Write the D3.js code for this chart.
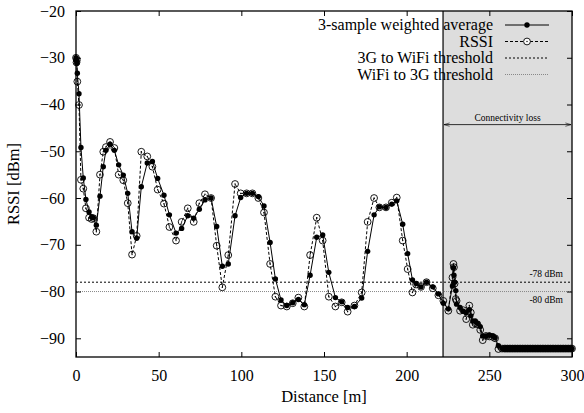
<!DOCTYPE html>
<html><head><meta charset="utf-8">
<script src="https://cdn.jsdelivr.net/npm/d3@7"></script>
<style>
body{margin:0;background:#fff;}
</style></head>
<body><svg id="chart" width="584" height="413"></svg>
<script>
// ---- data ----
const distance = [0,0.3,0.5,0.8,1.8,3,4.4,6,7.9,9.5,10.5,12.3,14.5,16.5,18.1,20.6,23.2,25.8,28.6,31.3,33.9,36.7,39.5,43.1,46.2,49.4,53.2,56.5,60.5,63.9,67.6,71.2,74.6,78,81.7,85.1,88.5,92.1,96.2,99.6,103.2,106.7,110.3,113.7,117.4,120.6,124,127.5,131.1,134.5,138.1,141.6,145.6,149.2,152.9,156.9,160.7,164.3,168.4,172.8,176.4,180.3,183.5,187.5,191,194,197.6,200.6,203.5,205.7,208.7,212,215.8,219.2,222.2,225.2,227.7,228.3,228.6,229,229.7,230.2,232.3,234.3,236,237.9,238.8,240,241.5,242.8,244.5,246,248,250,252,253.5,255.5,257.7,259,260,261,262,263,264,265,266,267,268,269,270,271,272,273,274,275,276,277,278,279,280,281,282,283,284,285,286,287,288,289,290,291,292,293,294,295,296,297,298,299,300];
const avgRssi = [-30,-30.6,-31.2,-33.3,-37.7,-49.2,-55.7,-60.3,-63,-64,-64.2,-65.8,-59.6,-53.3,-49.8,-48.5,-49.8,-52.9,-55.1,-59,-67.2,-68.6,-57.6,-52.5,-52.2,-55.8,-59.4,-63.6,-67.5,-66.5,-63.8,-64.3,-62.4,-60.4,-60,-66.1,-74.6,-74.1,-63.8,-59.9,-59,-59,-59.7,-61.7,-69.5,-77.3,-81.8,-83,-82.4,-81.7,-82.8,-76.5,-68.4,-67.9,-75.9,-81.3,-82.2,-83.4,-83.2,-81.4,-71.4,-63.6,-61.9,-62,-61.3,-60.6,-65.6,-71.9,-77.5,-78.3,-79,-78,-79,-80.5,-82.5,-83.7,-78.8,-74.9,-76.5,-78,-79.8,-82.7,-83.4,-84.2,-84.5,-83.9,-85.2,-86.3,-86.3,-86.8,-87.5,-89.5,-89.5,-89.3,-89.5,-89.9,-91.6,-92.2,-92.2,-92.2,-92.2,-92.2,-92.2,-92.2,-92.2,-92.2,-92.2,-92.2,-92.2,-92.2,-92.2,-92.2,-92.2,-92.2,-92.2,-92.2,-92.2,-92.2,-92.2,-92.2,-92.2,-92.2,-92.2,-92.2,-92.2,-92.2,-92.2,-92.2,-92.2,-92.2,-92.2,-92.2,-92.2,-92.2,-92.2,-92.2,-92.2,-92.2,-92.2,-92.2];
const rawRssi = [-30,-31,-30.5,-35.1,-40.1,-56.1,-58,-62.2,-64.2,-64.5,-64.3,-67.2,-55,-50.1,-49.1,-48,-49.3,-55,-56.2,-61.1,-72.1,-68.1,-50.1,-51.1,-53.3,-58.2,-61.2,-66.2,-69.1,-65.1,-62.2,-65.1,-61.1,-59.2,-60,-70.2,-79.1,-72.2,-57,-59,-59,-59,-60,-63.1,-74.1,-81.1,-83,-83.2,-82.5,-81.3,-83.2,-72.2,-64.2,-69.1,-81.1,-83.2,-82.3,-84.3,-83,-80.2,-65.1,-60,-62,-62,-61,-59.9,-69.1,-75.2,-80.2,-78.5,-79,-78,-79.3,-80.8,-82,-84.1,-77,-74.1,-74.8,-78.3,-81.6,-82,-84.1,-84,-85.9,-83,-84.5,-87.1,-86.8,-87,-88.2,-90.4,-89.5,-89.6,-89.7,-90,-92.3,-92.2,-92.2,-92.2,-92.2,-92.2,-92.2,-92.2,-92.2,-92.2,-92.2,-92.2,-92.2,-92.2,-92.2,-92.2,-92.2,-92.2,-92.2,-92.2,-92.2,-92.2,-92.2,-92.2,-92.2,-92.2,-92.2,-92.2,-92.2,-92.2,-92.2,-92.2,-92.2,-92.2,-92.2,-92.2,-92.2,-92.2,-92.2,-92.2,-92.2,-92.2,-92.2,-92.2];
const xTicks = [0,50,100,150,200,250,300];
const yTicks = [-20,-30,-40,-50,-60,-70,-80,-90];
const thresholds = [
  {label:"3G to WiFi threshold", value:-78, text:"-78 dBm"},
  {label:"WiFi to 3G threshold", value:-80, text:"-80 dBm"}
];
const lossRegion = [222, 300];
const legendLabels = ["3-sample weighted average","RSSI","3G to WiFi threshold","WiFi to 3G threshold"];

// ---- layout ----
const FONT = "'Liberation Serif','DejaVu Serif','Times New Roman',Times,serif";
const svg = d3.select("#chart");
const m = {left:76, right:12, top:11, bottom:56};
const W = 584 - m.left - m.right, H = 413 - m.top - m.bottom;
const g = svg.append("g").attr("transform",`translate(${m.left},${m.top})`);
const x = d3.scaleLinear().domain([0,300]).range([0,W]);
const y = d3.scaleLinear().domain([-94,-20]).range([H,0]);

// connectivity-loss region
g.append("rect").attr("x",x(lossRegion[0])).attr("y",0)
  .attr("width",x(lossRegion[1])-x(lossRegion[0])).attr("height",H)
  .attr("fill","#dddddd");
g.append("line").attr("x1",x(lossRegion[0])).attr("x2",x(lossRegion[0]))
  .attr("y1",0).attr("y2",H).attr("stroke","#000").attr("stroke-width",1.2);

// arrow
const defs = svg.append("defs");
defs.append("marker").attr("id","ah").attr("viewBox","0 0 10 10").attr("refX",10).attr("refY",5)
  .attr("markerWidth",7).attr("markerHeight",7).attr("orient","auto-start-reverse")
  .append("path").attr("d","M0,2 L10,5 L0,8").attr("fill","none").attr("stroke","#000").attr("stroke-width",1);
const ay = y(-44.3);
g.append("line").attr("x1",x(lossRegion[0])+1).attr("x2",x(lossRegion[1])-1).attr("y1",ay).attr("y2",ay)
  .attr("stroke","#000").attr("stroke-width",0.8)
  .attr("marker-start","url(#ah)").attr("marker-end","url(#ah)");
g.append("text").attr("x",(x(lossRegion[0])+x(lossRegion[1]))/2).attr("y",ay-4)
  .attr("text-anchor","middle").style("font-family",FONT).style("font-size","9.5px").text("Connectivity loss");

// thresholds
const thrStyle = [{stroke:"#000",dash:"2,2",w:1},{stroke:"#888",dash:"1,1",w:1}];
thresholds.forEach((t,i)=>{
  g.append("line").attr("x1",0).attr("x2",W).attr("y1",y(t.value)).attr("y2",y(t.value))
   .attr("stroke",thrStyle[i].stroke).attr("stroke-dasharray",thrStyle[i].dash).attr("stroke-width",thrStyle[i].w);
});
g.append("text").attr("x",x(294.5)).attr("y",y(-78)-5).attr("text-anchor","end").style("font-family",FONT).style("font-size","9.5px").text(thresholds[0].text);
g.append("text").attr("x",x(294.5)).attr("y",y(-80)+11).attr("text-anchor","end").style("font-family",FONT).style("font-size","9.5px").text(thresholds[1].text);

// series
const pts = distance.map((d,i)=>({d, a:avgRssi[i], r:rawRssi[i]}));
const lineR = d3.line().x(p=>x(p.d)).y(p=>y(p.r));
const lineA = d3.line().x(p=>x(p.d)).y(p=>y(p.a));
g.append("path").datum(pts).attr("d",lineR).attr("fill","none").attr("stroke","#000")
  .attr("stroke-width",1).attr("stroke-dasharray","3,2");
g.selectAll("circle.r").data(pts).join("circle").attr("class","r")
  .attr("cx",p=>x(p.d)).attr("cy",p=>y(p.r)).attr("r",3.4)
  .attr("fill","none").attr("stroke","#000").attr("stroke-width",0.9);
g.selectAll("circle.rc").data(pts).join("circle").attr("class","rc")
  .attr("cx",p=>x(p.d)).attr("cy",p=>y(p.r)).attr("r",0.7).attr("fill","#000");
g.append("path").datum(pts).attr("d",lineA).attr("fill","none").attr("stroke","#000").attr("stroke-width",1);
g.selectAll("circle.a").data(pts).join("circle").attr("class","a")
  .attr("cx",p=>x(p.d)).attr("cy",p=>y(p.a)).attr("r",2.7).attr("fill","#000");

// axes
const fs = "16px";
const ax = g.append("g").attr("transform",`translate(0,${H})`)
  .call(d3.axisBottom(x).tickValues(xTicks).tickSizeInner(-5).tickSizeOuter(0).tickPadding(13));
const ay2 = g.append("g")
  .call(d3.axisLeft(y).tickValues(yTicks).tickSizeInner(-5).tickSizeOuter(0).tickPadding(11));
const axT = g.append("g").call(d3.axisTop(x).tickValues(xTicks).tickSizeInner(-5).tickSizeOuter(0).tickFormat(""));
const axR = g.append("g").attr("transform",`translate(${W},0)`)
  .call(d3.axisRight(y).tickValues(yTicks).tickSizeInner(-5).tickSizeOuter(0).tickFormat(""));
[ax,ay2,axT,axR].forEach(a=>{
  a.attr("font-family",null).attr("font-size",null);
  a.select(".domain").remove();
  a.selectAll("line").attr("stroke","#000");
  a.selectAll("text").style("font-family",FONT).style("font-size",fs).attr("fill","#000");
});
g.append("rect").attr("x",0).attr("y",0).attr("width",W).attr("height",H)
  .attr("fill","none").attr("stroke","#000").attr("stroke-width",1.3);

// labels
svg.append("text").attr("x",m.left+W/2).attr("y",402).attr("text-anchor","middle")
  .style("font-family",FONT).style("font-size","16.5px").text("Distance [m]");
svg.append("text").attr("transform",`translate(19,${m.top+H/2}) rotate(-90)`).attr("text-anchor","middle")
  .style("font-family",FONT).style("font-size","16.5px").text("RSSI [dBm]");

// legend
const lg = svg.append("g");
legendLabels.forEach((lab,i)=>{
  const yy = 25 + i*16.5;
  lg.append("text").attr("x",493).attr("y",yy+5).attr("text-anchor","end")
    .style("font-family",FONT).style("font-size",fs).text(lab);
  const l = lg.append("line").attr("x1",505).attr("x2",549).attr("y1",yy).attr("y2",yy).attr("stroke","#000");
  if(i===0){ lg.append("circle").attr("cx",527).attr("cy",yy).attr("r",2.7).attr("fill","#000"); }
  if(i===1){ l.attr("stroke-dasharray","3,2");
    lg.append("circle").attr("cx",527).attr("cy",yy).attr("r",3.4).attr("fill","#fff").attr("stroke","#000").attr("stroke-width",0.9);
    lg.append("circle").attr("cx",527).attr("cy",yy).attr("r",0.7).attr("fill","#000"); }
  if(i===2){ l.attr("stroke-dasharray","2,2"); }
  if(i===3){ l.attr("stroke","#888").attr("stroke-dasharray","1,1"); }
});
</script></body></html>
